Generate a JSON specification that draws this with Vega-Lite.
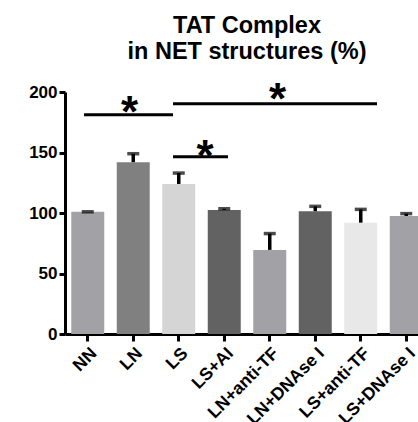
{
  "$schema": "https://vega.github.io/schema/vega-lite/v6.json",
  "padding": {"left": 28, "top": 14, "right": 0, "bottom": 0},
  "width": 364,
  "height": 242,
  "background": "white",
  "config": {
    "view": {"stroke": null},
    "font": "Liberation Sans",
    "axis": {"title": null, "grid": false, "labelFont": "Liberation Sans", "labelFontWeight": "bold", "labelColor": "black", "domain": true, "domainColor": "black", "domainWidth": 3, "ticks": true, "tickColor": "black", "tickWidth": 3, "zindex": 1}
  },
  "title": {
    "text": ["TAT Complex", "in NET structures (%)"],
    "fontSize": 23.5,
    "fontWeight": "bold",
    "font": "Liberation Sans",
    "lineHeight": 26,
    "anchor": "middle",
    "offset": 15,
    "color": "black"
  },
  "datasets": {
    "main": [
      {"group": "NN", "mean": 101, "upper": 101},
      {"group": "LN", "mean": 142, "upper": 149},
      {"group": "LS", "mean": 124, "upper": 133},
      {"group": "LS+AI", "mean": 102.5, "upper": 103.5},
      {"group": "LN+anti-TF", "mean": 69.5, "upper": 83},
      {"group": "LN+DNAse I", "mean": 101.5, "upper": 105.5},
      {"group": "LS+anti-TF", "mean": 92, "upper": 103},
      {"group": "LS+DNAse I", "mean": 97.5, "upper": 99.5}
    ],
    "lines": [
      {"x1": 0.418, "x2": 2.374, "y1": 181.2, "y2": 181.2},
      {"x1": 2.374, "x2": 6.857, "y1": 190.3, "y2": 190.3},
      {"x1": 2.374, "x2": 3.582, "y1": 146.5, "y2": 146.5}
    ],
    "stars": [
      {"x": 1.418, "y": 189.7, "label": "*"},
      {"x": 4.67, "y": 201, "label": "*"},
      {"x": 3.08, "y": 154, "label": "*"}
    ]
  },
  "layer": [
    {
      "data": {"name": "main"},
      "encoding": {
        "x": {
          "field": "group", "type": "nominal", "sort": null,
          "scale": {"paddingInner": 0.275, "paddingOuter": 0.1375},
          "axis": {"labelAngle": -45, "labelFontSize": 17.5, "tickSize": 7, "labelPadding": 3}
        },
        "y": {
          "field": "mean", "type": "quantitative",
          "scale": {"domain": [0, 200], "nice": false},
          "axis": {"values": [0, 50, 100, 150, 200], "labelFontSize": 17, "tickSize": 6, "labelPadding": 2}
        }
      },
      "layer": [
        {
          "mark": {"type": "bar"},
          "encoding": {
            "color": {
              "field": "group", "type": "nominal", "legend": null,
              "scale": {
                "domain": ["NN", "LN", "LS", "LS+AI", "LN+anti-TF", "LN+DNAse I", "LS+anti-TF", "LS+DNAse I"],
                "range": ["#a2a2a6", "#808080", "#d5d5d5", "#626262", "#a2a2a6", "#626262", "#e8e8e8", "#a2a2a6"]
              }
            }
          }
        },
        {
          "mark": {"type": "rule", "strokeWidth": 3.5, "color": "black"},
          "encoding": {"y2": {"field": "upper"}}
        },
        {
          "mark": {"type": "tick", "thickness": 3.5, "size": 12, "color": "black"},
          "encoding": {"y": {"field": "upper", "type": "quantitative"}}
        }
      ]
    },
    {
      "layer": [
        {
          "data": {"name": "lines"},
          "mark": {"type": "rule", "strokeWidth": 3, "color": "black"},
          "encoding": {
            "x": {"field": "x1", "type": "quantitative", "scale": {"domain": [0, 8], "nice": false, "zero": false}, "axis": null},
            "x2": {"field": "x2"},
            "y": {"field": "y1", "type": "quantitative"},
            "y2": {"field": "y2"}
          }
        },
        {
          "data": {"name": "stars"},
          "mark": {"type": "text", "fontSize": 44, "fontWeight": "bold", "font": "Liberation Sans", "baseline": "middle", "align": "center", "dy": 10, "color": "black"},
          "encoding": {
            "x": {"field": "x", "type": "quantitative", "scale": {"domain": [0, 8], "nice": false, "zero": false}, "axis": null},
            "y": {"field": "y", "type": "quantitative"},
            "text": {"field": "label"}
          }
        }
      ]
    }
  ],
  "resolve": {"scale": {"x": "independent"}}
}
